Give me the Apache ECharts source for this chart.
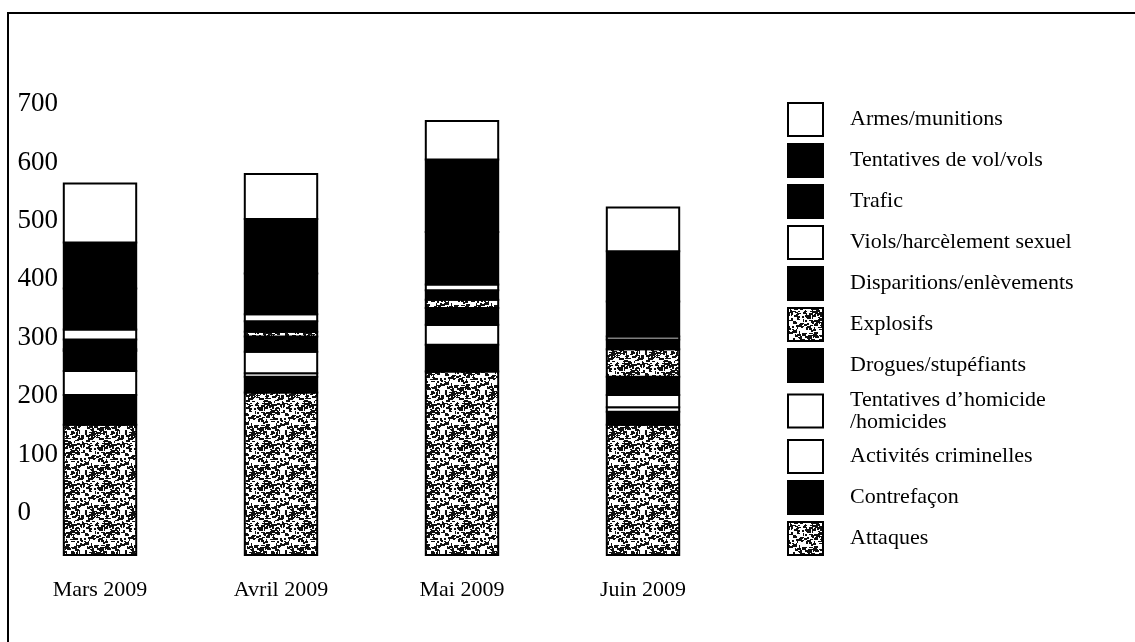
<!DOCTYPE html>
<html>
<head>
<meta charset="utf-8">
<script src="https://cdn.jsdelivr.net/npm/echarts@6/dist/echarts.min.js"></script>
<style>
  html, body { margin: 0; padding: 0; background: #fff; }
  #chart { width: 1135px; height: 642px; }
</style>
</head>
<body>
<div id="chart"></div>
<script>
// ---- Data (values read against the printed tick labels) ----
const categories = ['Mars 2009', 'Avril 2009', 'Mai 2009', 'Juin 2009'];
const yTickLabels = [0, 100, 200, 300, 400, 500, 600, 700];

const attaques     = [151, 206, 242, 151];
const contrefacon  = [51, 27, 46, 22];
const activites    = [41, 6, 34, 8];
const homicides    = [0, 37, 0, 21];
const drogues      = [34, 26, 29, 31];
const explosifs    = [3, 8, 14, 47];
const disparitions = [17, 18, 16, 17];
const viols        = [17, 12, 10, 5];
const trafic       = [70, 70, 90, 60];
const vols         = [79, 93, 124, 86];
const armes        = [101, 77, 66, 75];

// stacking order from bottom to top
const layers = [
  { name: 'Attaques', values: attaques, kind: 'pattern' },
  { name: 'Contrefaçon', values: contrefacon, kind: 'black' },
  { name: 'Activités criminelles', values: activites, kind: 'white' },
  { name: 'Tentatives d\u2019homicide\n/homicides', values: homicides, kind: 'white' },
  { name: 'Drogues/stupéfiants', values: drogues, kind: 'black' },
  { name: 'Explosifs', values: explosifs, kind: 'pattern' },
  { name: 'Disparitions/enlèvements', values: disparitions, kind: 'black' },
  { name: 'Viols/harcèlement sexuel', values: viols, kind: 'white' },
  { name: 'Trafic', values: trafic, kind: 'black' },
  { name: 'Tentatives de vol/vols', values: vols, kind: 'black' },
  { name: 'Armes/munitions', values: armes, kind: 'white' }
];

// ---- Styling ----
const Y_MIN = -72, Y_MAX = 700;
const SERIF = '"Liberation Serif", "Times New Roman", serif';

function makePattern() {
  const c = document.createElement('canvas');
  c.width = 40; c.height = 40;
  const g = c.getContext('2d');
  g.fillStyle = '#fff'; g.fillRect(0, 0, 40, 40);
  g.fillStyle = '#111';
  let s = 12345;
  function h() { s = (s * 1103515245 + 12345) % 2147483648; return s / 2147483648; }
  for (let n = 0; n < 250; n++) {
    const x = Math.floor(h() * 40), y = Math.floor(h() * 40);
    const horiz = h() < 0.7;
    const w = horiz ? 2 + Math.floor(h() * 3) : 1 + Math.floor(h() * 2);
    const hh = horiz ? 1 + Math.floor(h() * 2) : 2 + Math.floor(h() * 2);
    g.fillRect(x, y, w, hh);
  }
  return c;
}
const patternCanvas = makePattern();
function fillFor(kind) {
  if (kind === 'black') return '#000';
  if (kind === 'white') return '#fff';
  return { image: patternCanvas, repeat: 'repeat' };
}

const series = layers.map((L, k) => ({
  type: 'custom',
  name: L.name,
  itemStyle: { color: fillFor(L.kind), borderColor: '#000', borderWidth: 2 },
  data: L.values.map((v, i) => [i, v]),
  encode: { x: 0, y: 1 },
  renderItem: function (params, api) {
    const i = api.value(0);
    let lo = 0;
    for (let j = 0; j < k; j++) lo += layers[j].values[i];
    const hi = lo + api.value(1);
    const bottom = k === 0 ? Y_MIN : lo;
    const pTop = api.coord([i, hi]);
    const pBot = api.coord([i, bottom]);
    const w = api.size([1, 0])[0] * 0.4;
    return {
      type: 'rect',
      shape: { x: pTop[0] - w / 2, y: pTop[1], width: w, height: pBot[1] - pTop[1] },
      style: { fill: fillFor(L.kind), stroke: '#000', lineWidth: 2 }
    };
  }
}));

const legendOrder = layers.map(l => l.name).reverse();

const chart = echarts.init(document.getElementById('chart'), null, { renderer: 'canvas' });
chart.setOption({
  backgroundColor: '#fff',
  animation: false,
  graphic: [
    { type: 'line', shape: { x1: 8, y1: 13, x2: 8, y2: 642 }, style: { stroke: '#000', lineWidth: 2 } },
    { type: 'line', shape: { x1: 7, y1: 13, x2: 1135, y2: 13 }, style: { stroke: '#000', lineWidth: 2 } }
  ],
  grid: { left: 9.5, width: 724, top: 104, bottom: 87 },
  xAxis: {
    type: 'category',
    data: categories,
    axisLine: { show: false },
    axisTick: { show: false },
    axisLabel: { margin: 24, fontSize: 22, fontFamily: SERIF, color: '#000' }
  },
  yAxis: {
    type: 'value',
    min: Y_MIN, max: Y_MAX, interval: 4,
    axisLine: { show: false },
    axisTick: { show: false },
    splitLine: { show: false },
    axisLabel: {
      inside: true, margin: 8, fontSize: 27, fontFamily: SERIF, color: '#000',
      formatter: function (v) { return yTickLabels.indexOf(v) >= 0 ? String(v) : ''; }
    }
  },
  legend: {
    data: legendOrder,
    orient: 'vertical',
    left: 787, top: 102,
    padding: 0,
    icon: 'rect',
    itemWidth: 35, itemHeight: 33, itemGap: 6,
    selectedMode: false,
    itemStyle: { borderColor: '#000', borderWidth: 2 },
    textStyle: { fontSize: 22, lineHeight: 22, fontFamily: SERIF, color: '#000', padding: [0, 0, 0, 22] }
  },
  series: series
});
</script>
</body>
</html>
